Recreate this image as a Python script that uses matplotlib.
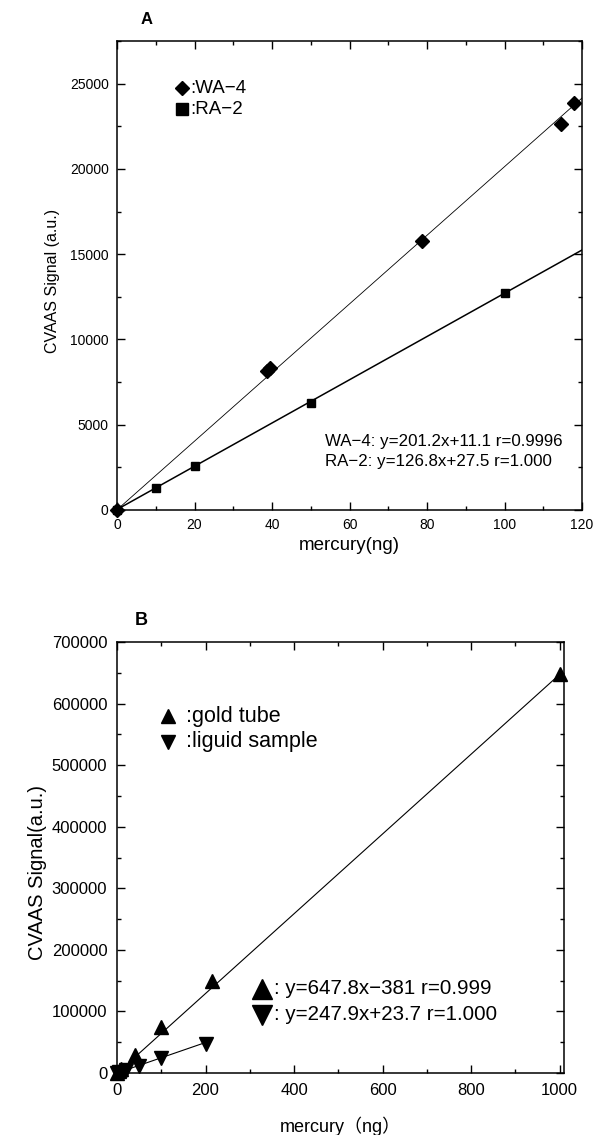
import matplotlib
matplotlib.use("Agg")
import matplotlib.pyplot as plt
import numpy as np
from matplotlib.ticker import MultipleLocator

plt.rcParams['font.family'] = ['Liberation Sans', 'Noto Sans CJK JP', 'DejaVu Sans']

# ---- panel A data ----
wa4_x = [0, 38.8, 39.5, 78.8, 114.5, 118.0]
wa4_y = [0, 8150, 8300, 15800, 22650, 23850]
ra2_x = [0, 10, 20, 50, 100]
ra2_y = [0, 1270, 2590, 6280, 12700]
wa4_fit = (201.2, 11.1)
ra2_fit = (126.8, 27.5)

# ---- panel B data ----
gold_x = [0, 5, 10, 40, 100, 215, 1000]
gold_y = [0, 2500, 6000, 29000, 74000, 149000, 648000]
liq_x = [0, 5, 20, 50, 100, 200]
liq_y = [0, 1200, 4500, 11500, 24000, 47500]
gold_fit = (647.8, -381)
liq_fit = (247.9, 23.7)


def style_axes(ax, xmaj, xmin, ymaj, ymin, labelsize, pad):
    ax.xaxis.set_major_locator(MultipleLocator(xmaj))
    ax.xaxis.set_minor_locator(MultipleLocator(xmin))
    ax.yaxis.set_major_locator(MultipleLocator(ymaj))
    ax.yaxis.set_minor_locator(MultipleLocator(ymin))
    ax.tick_params(which='both', direction='in', top=True, right=True, width=1.0)
    ax.tick_params(which='major', length=5.5, labelsize=labelsize, pad=pad)
    ax.tick_params(which='minor', length=3)
    for s in ax.spines.values():
        s.set_linewidth(1.1)


fig = plt.figure(figsize=(5.98, 11.35), dpi=100)

# ================= A =================
axA = fig.add_axes([0.1957, 0.5507, 0.7776, 0.4132])
xs = np.array([0, 120])
axA.plot(xs, wa4_fit[0] * xs + wa4_fit[1], color='black', lw=0.6)
axA.plot(xs, ra2_fit[0] * xs + ra2_fit[1], color='black', lw=1.1)
axA.plot(wa4_x, wa4_y, 'D', color='black', ms=7.3, clip_on=False)
axA.plot(ra2_x, ra2_y, 's', color='black', ms=6.2, clip_on=False)
axA.set_xlim(0, 120)
axA.set_ylim(0, 27500)
style_axes(axA, 20, 10, 5000, 2500, 10, 6)
axA.set_xlabel('mercury(ng)', fontsize=13.5)
axA.set_ylabel('CVAAS Signal (a.u.)', fontsize=11.5)
axA.xaxis.set_label_coords(0.5, -0.058)
axA.yaxis.set_label_coords(-0.123, 0.488)
axA.text(0.05, 1.045, 'A', transform=axA.transAxes, fontsize=12,
         fontweight='bold', va='center')

# key
axA.plot([0.139], [0.899], 'D', color='black', ms=7.5, transform=axA.transAxes)
axA.plot([0.139], [0.854], 's', color='black', ms=9.0, transform=axA.transAxes)
axA.text(0.157, 0.899, ':WA\u22124', transform=axA.transAxes, fontsize=13.5, va='center')
axA.text(0.157, 0.854, ':RA\u22122', transform=axA.transAxes, fontsize=13.5, va='center')

axA.text(0.447, 0.146, 'WA\u22124: y=201.2x+11.1 r=0.9996', transform=axA.transAxes,
         fontsize=12.2, va='center')
axA.text(0.447, 0.103, 'RA\u22122: y=126.8x+27.5 r=1.000', transform=axA.transAxes,
         fontsize=12.2, va='center')

# ================= B =================
axB = fig.add_axes([0.1957, 0.0546, 0.7475, 0.3797])
xg = np.array([0, 1000])
axB.plot(xg, gold_fit[0] * xg + gold_fit[1], color='black', lw=0.8)
xl = np.array([0, 200])
axB.plot(xl, liq_fit[0] * xl + liq_fit[1], color='black', lw=0.8)
axB.plot(gold_x, gold_y, '^', color='black', ms=10.5, clip_on=False)
axB.plot(liq_x, liq_y, 'v', color='black', ms=10, clip_on=False)
axB.set_xlim(0, 1010)
axB.set_ylim(0, 700000)
style_axes(axB, 200, 100, 100000, 50000, 12, 7)
axB.set_xlabel('mercury\uff08ng\uff09', fontsize=13)
axB.set_ylabel('CVAAS Signal(a.u.)', fontsize=14.5)
axB.xaxis.set_label_coords(0.5, -0.1)
axB.yaxis.set_label_coords(-0.157, 0.466)
axB.text(0.04, 1.05, 'B', transform=axB.transAxes, fontsize=13,
         fontweight='bold', va='center')

axB.plot([0.115], [0.828], '^', color='black', ms=9.5, transform=axB.transAxes)
axB.plot([0.115], [0.769], 'v', color='black', ms=9.5, transform=axB.transAxes)
axB.text(0.155, 0.828, ':gold tube', transform=axB.transAxes, fontsize=15.5, va='center')
axB.text(0.155, 0.769, ':liguid sample', transform=axB.transAxes, fontsize=15.5, va='center')

axB.plot([0.325], [0.195], '^', color='black', ms=14, transform=axB.transAxes)
axB.plot([0.325], [0.135], 'v', color='black', ms=14, transform=axB.transAxes)
axB.text(0.352, 0.195, ': y=647.8x\u2212381 r=0.999', transform=axB.transAxes,
         fontsize=14.8, va='center')
axB.text(0.352, 0.135, ': y=247.9x+23.7 r=1.000', transform=axB.transAxes,
         fontsize=14.8, va='center')

fig.savefig('out.png', dpi=100)
